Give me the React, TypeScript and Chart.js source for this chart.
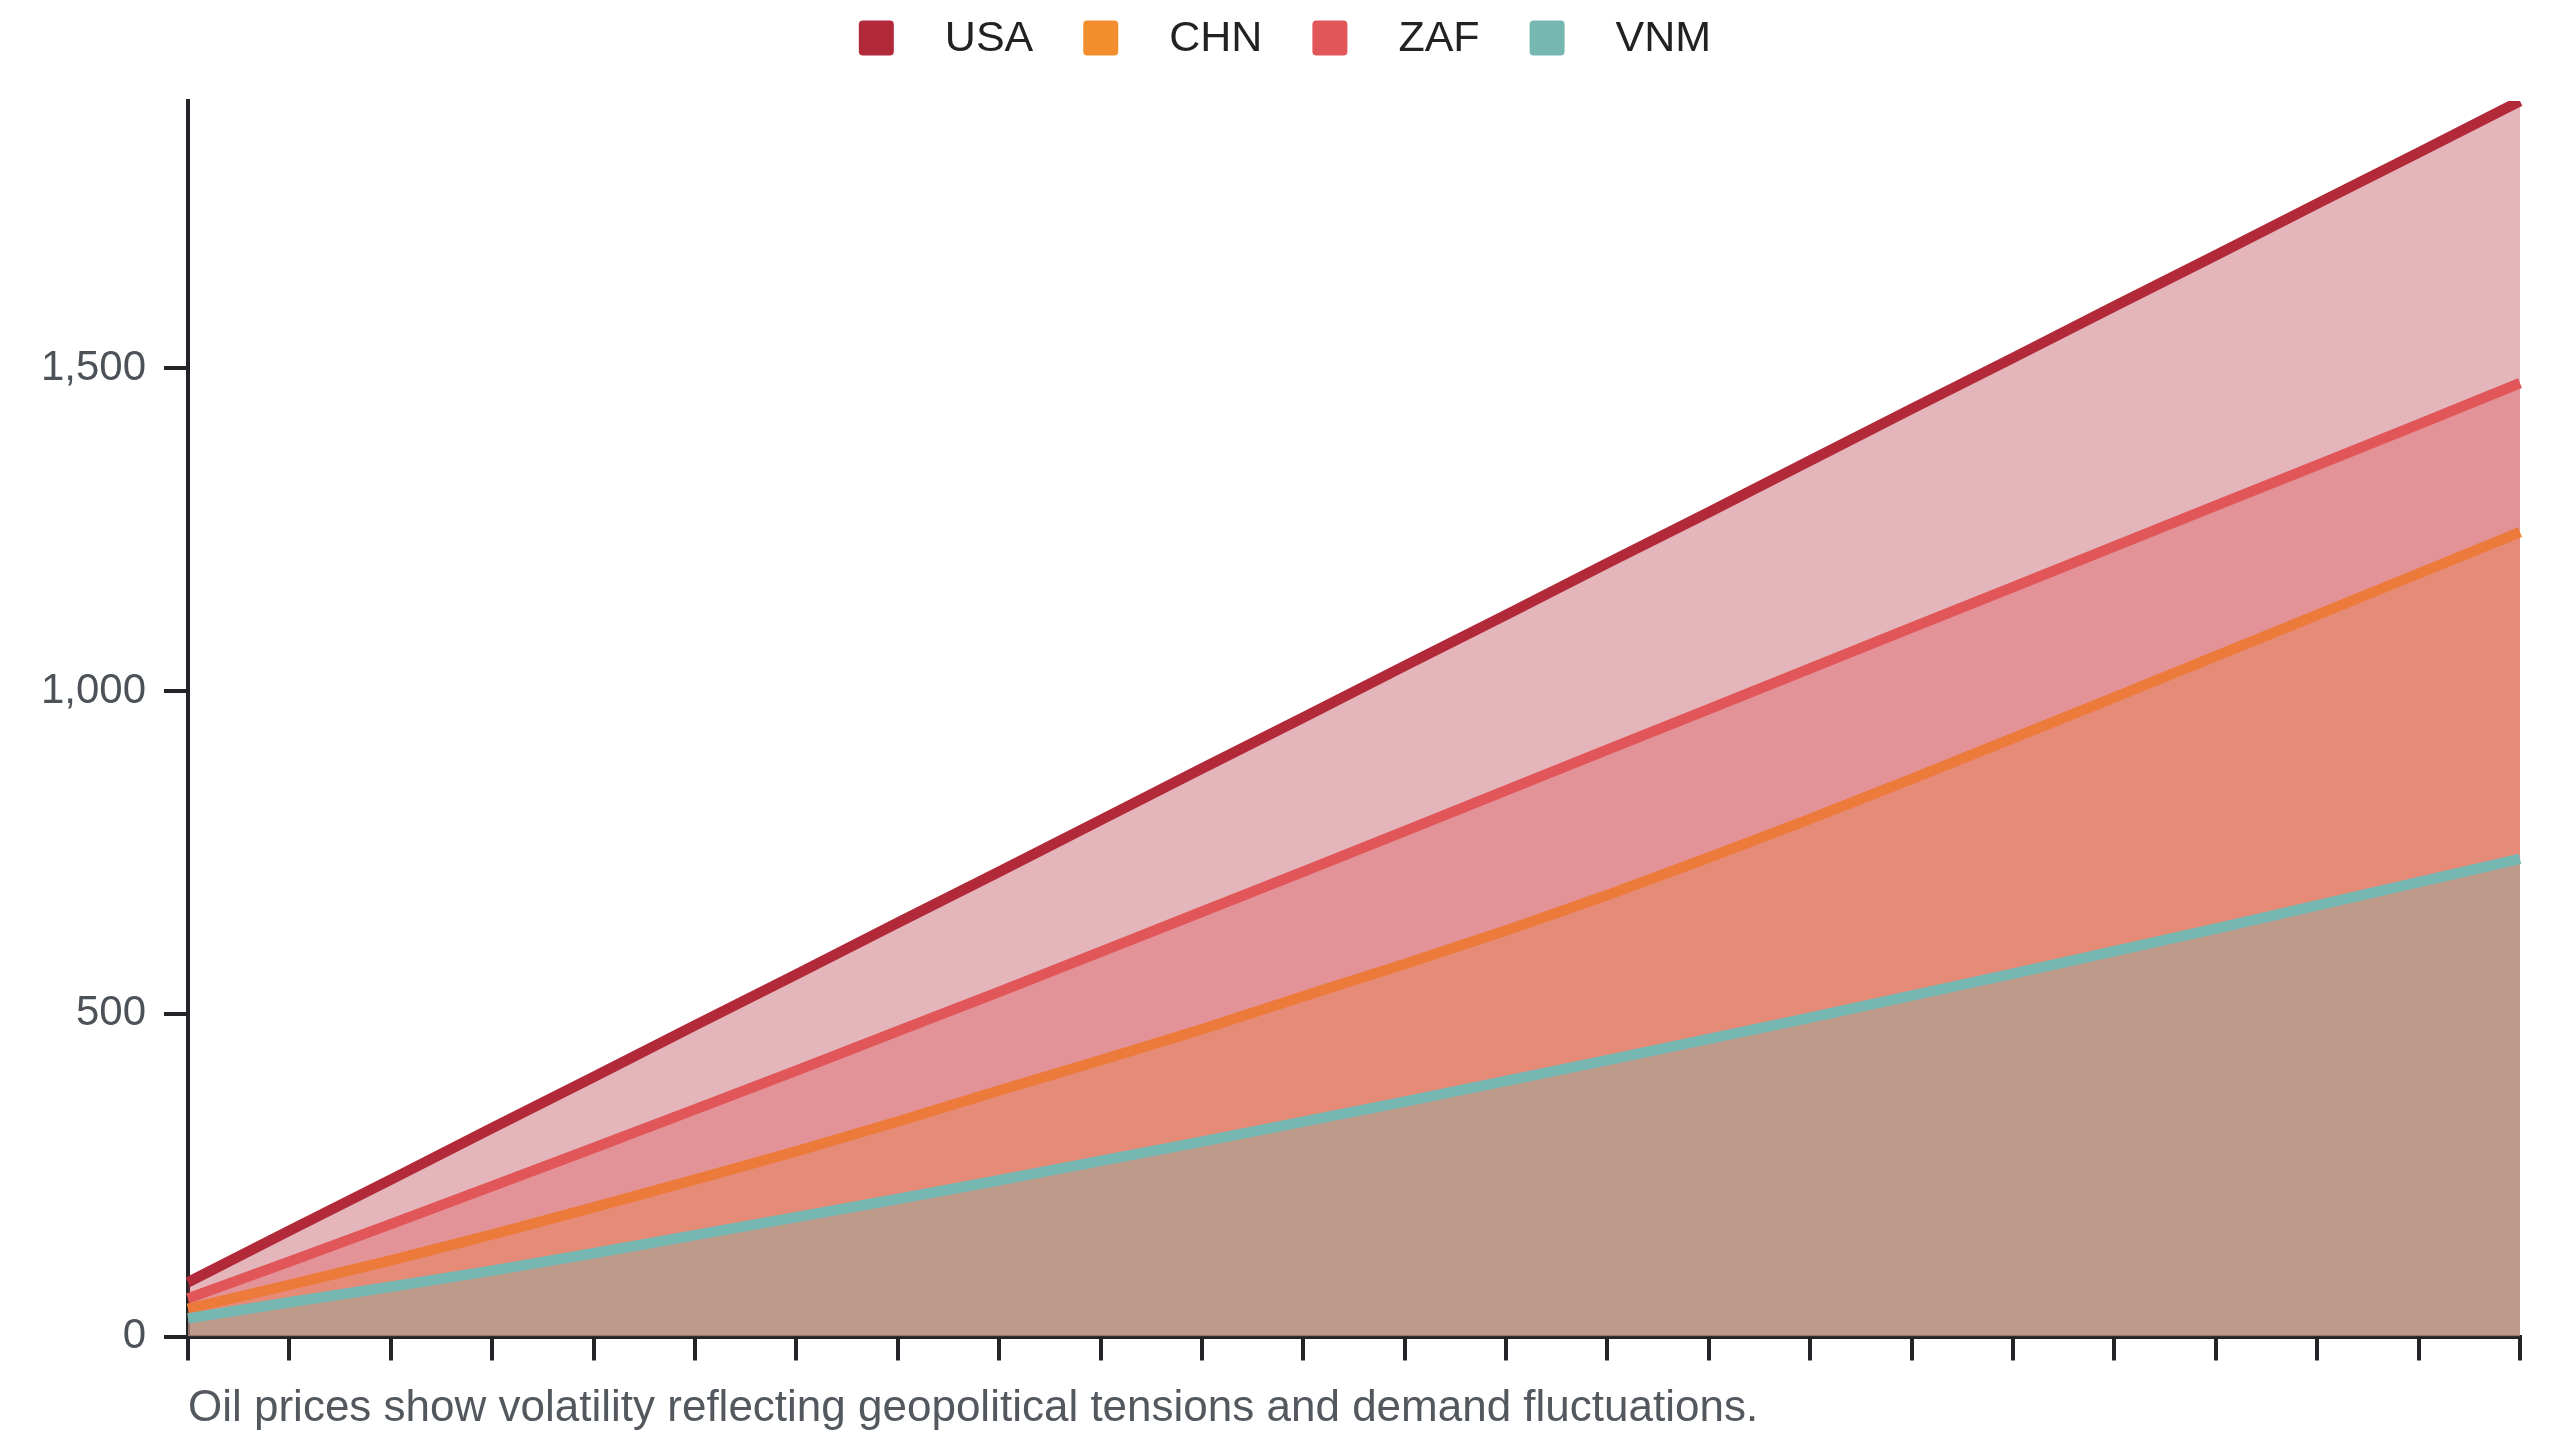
import React, { useEffect, useRef } from "react";
import { Chart, registerables } from "chart.js";

Chart.register(...registerables);

// ---- data ----
const YEARS = [
  "2000", "2001", "2002", "2003", "2004", "2005", "2006", "2007",
  "2008", "2009", "2010", "2011", "2012", "2013", "2014", "2015",
  "2016", "2017", "2018", "2019", "2020", "2021", "2022", "2023",
];

const SERIES_NAMES = ["USA", "CHN", "ZAF", "VNM"];

const USA = [84, 164, 243, 323, 402, 482, 561, 641, 720, 800, 880, 959, 1039, 1118, 1198, 1277, 1357, 1437, 1516, 1596, 1675, 1755, 1834, 1914];
const CHN = [43, 80, 118, 158, 200, 243, 287, 333, 381, 428, 476, 527, 577, 629, 684, 742, 802, 864, 927, 990, 1054, 1118, 1182, 1246];
const ZAF = [59, 116, 174, 233, 292, 352, 412, 473, 534, 596, 658, 720, 783, 846, 909, 972, 1035, 1098, 1161, 1224, 1287, 1350, 1413, 1477];
const VNM = [28, 53, 77, 102, 129, 157, 185, 213, 242, 272, 302, 333, 364, 396, 428, 461, 494, 528, 562, 597, 632, 668, 704, 740];

const SERIES_VALUES = [USA, CHN, ZAF, VNM];
const COLORS = ["#b22a3a", "#f28e2b", "#e15759", "#76b7b2"];

const Y_TICKS = [0, 500, 1000, 1500];
const CAPTION = "Oil prices show volatility reflecting geopolitical tensions and demand fluctuations.";

const FONT_FAMILY = '"Liberation Sans", Arial, Helvetica, sans-serif';
const AXIS_COLOR = "#222428";
const TICK_TEXT_COLOR = "#4d5259";

function withAlpha(hex: string, a: number): string {
  const h = hex.replace("#", "");
  const r = parseInt(h.slice(0, 2), 16);
  const g = parseInt(h.slice(2, 4), 16);
  const b = parseInt(h.slice(4, 6), 16);
  return `rgba(${r},${g},${b},${a})`;
}

const legendPlugin = {
  id: "topLegend",
  afterDraw(chart: any) {
    const ctx = chart.ctx as CanvasRenderingContext2D;
    ctx.save();
    ctx.font = `43px ${FONT_FAMILY}`;
    const box = 35;
    const gapText = 51;
    const gapItem = 50;
    const widths = SERIES_NAMES.map((n) => ctx.measureText(n).width);
    const total =
      widths.reduce((s, w) => s + box + gapText + w, 0) + gapItem * (SERIES_NAMES.length - 1);
    let x = chart.width / 2 + 5 - total / 2;
    const cy = 38;
    ctx.textBaseline = "middle";
    ctx.textAlign = "left";
    SERIES_NAMES.forEach((name, i) => {
      ctx.fillStyle = COLORS[i];
      ctx.beginPath();
      if ((ctx as any).roundRect) {
        (ctx as any).roundRect(x, cy - box / 2, box, box, 4);
      } else {
        ctx.rect(x, cy - box / 2, box, box);
      }
      ctx.fill();
      ctx.fillStyle = "#222222";
      ctx.fillText(name, x + box + gapText, cy + 1);
      x += box + gapText + widths[i] + gapItem;
    });
    ctx.restore();
  },
};

const captionPlugin = {
  id: "caption",
  afterDraw(chart: any) {
    const ctx = chart.ctx as CanvasRenderingContext2D;
    ctx.save();
    ctx.font = `44px ${FONT_FAMILY}`;
    ctx.fillStyle = "#53585f";
    ctx.textBaseline = "alphabetic";
    ctx.textAlign = "left";
    ctx.fillText(CAPTION, chart.chartArea.left, 1421);
    ctx.restore();
  },
};

export default function App() {
  const canvasRef = useRef<HTMLCanvasElement | null>(null);

  useEffect(() => {
    const canvas = canvasRef.current;
    if (!canvas) return;

    const datasets = SERIES_NAMES.map((name, i) => ({
      label: name,
      data: SERIES_VALUES[i],
      borderColor: COLORS[i],
      backgroundColor: withAlpha(COLORS[i], 0.35),
      borderWidth: 10.5,
      fill: "origin",
      tension: 0,
      pointRadius: 0,
      pointHoverRadius: 0,
      order: SERIES_NAMES.length - i,
    }));

    const chart = new Chart(canvas, {
      type: "line",
      data: { labels: YEARS, datasets: datasets as any },
      plugins: [legendPlugin, captionPlugin],
      options: {
        animation: false,
        responsive: false,
        events: [],
        layout: { padding: { top: 101, right: 40, bottom: 0, left: 0 } },
        plugins: {
          legend: { display: false },
          tooltip: { enabled: false },
          title: { display: false },
        },
        scales: {
          x: {
            type: "category",
            offset: false,
            ticks: { display: false },
            grid: {
              display: true,
              drawOnChartArea: false,
              drawTicks: true,
              tickLength: 24,
              color: AXIS_COLOR,
              lineWidth: 4,
              offset: false,
            },
            border: { display: true, color: AXIS_COLOR, width: 4 },
            afterFit: (s: any) => {
              s.height = 103.5;
            },
          },
          y: {
            type: "linear",
            min: 0,
            max: Math.max(...USA),
            ticks: {
              padding: 18,
              color: TICK_TEXT_COLOR,
              font: { family: FONT_FAMILY, size: 42 },
              callback: (v: any) => Number(v).toLocaleString("en-US"),
            },
            afterBuildTicks: (s: any) => {
              s.ticks = Y_TICKS.map((v) => ({ value: v }));
            },
            grid: {
              display: true,
              drawOnChartArea: false,
              drawTicks: true,
              tickLength: 24,
              color: AXIS_COLOR,
              lineWidth: 4,
            },
            border: { display: true, color: AXIS_COLOR, width: 4 },
            afterFit: (s: any) => {
              s.width = 188;
            },
          },
        },
      } as any,
    });

    return () => {
      chart.destroy();
    };
  }, []);

  return (
    <div
      style={{
        position: "fixed",
        left: 0,
        top: 0,
        width: "2560px",
        height: "1440px",
        background: "#ffffff",
      }}
    >
      <canvas ref={canvasRef} width={2560} height={1440} style={{ display: "block" }} />
    </div>
  );
}
